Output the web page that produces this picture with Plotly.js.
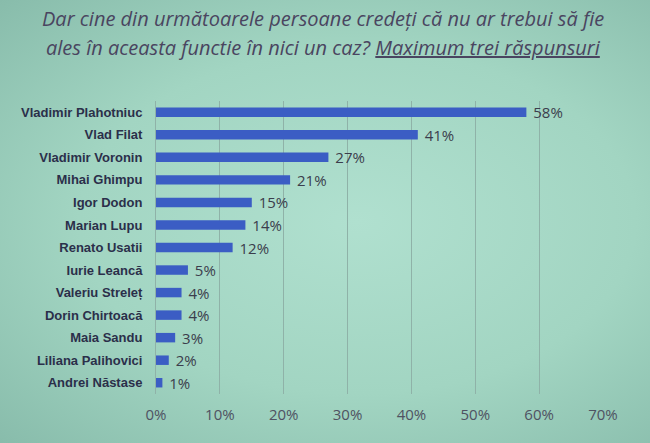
<!DOCTYPE html>
<html>
<head>
<meta charset="utf-8">
<script src="https://cdn.plot.ly/plotly-3.0.1.min.js"></script>
<style>
  html, body { margin: 0; padding: 0; }
  body {
    width: 650px; height: 443px; overflow: hidden;
    background: radial-gradient(ellipse at 55% 50%, #b0e0cf 0%, #a2d5c2 55%, #88bcab 100%);
  }
  #chart { width: 650px; height: 443px; }
</style>
</head>
<body>
<div id="chart"></div>
<script>
// Răspunsuri: cine nu ar trebui ales în nici un caz (%)
const names = [
  'Vladimir Plahotniuc', 'Vlad Filat', 'Vladimir Voronin', 'Mihai Ghimpu',
  'Igor Dodon', 'Marian Lupu', 'Renato Usatii', 'Iurie Leancă',
  'Valeriu Streleț', 'Dorin Chirtoacă', 'Maia Sandu', 'Liliana Palihovici',
  'Andrei Năstase'
];
const shares = [58, 41, 27, 21, 15, 14, 12, 5, 4, 4, 3, 2, 1];
const tickVals = [0, 10, 20, 30, 40, 50, 60, 70];
const tickText = tickVals.map(v => v + '%');
const titleLines = [
  'Dar cine din următoarele persoane credeți că nu ar trebui să fie',
  'ales în aceasta functie în nici un caz? <u>Maximum trei răspunsuri</u>'
];

const trace = {
  type: 'bar',
  orientation: 'h',
  y: names,
  x: shares,
  text: shares.map(v => '\u00a0' + v + '%'),
  textposition: 'outside',
  constraintext: 'none',
  cliponaxis: false,
  textfont: { family: 'Open Sans, sans-serif', size: 15, color: '#3b3d4c' },
  marker: { color: '#3b5dc4' },
  hoverinfo: 'none'
};

const layout = {
  width: 650,
  height: 443,
  paper_bgcolor: 'rgba(0,0,0,0)',
  plot_bgcolor: 'rgba(0,0,0,0)',
  margin: { l: 156, r: 47, t: 101, b: 49 },
  bargap: 0.58,
  showlegend: false,
  xaxis: {
    range: [0, 70],
    tickvals: tickVals,
    ticktext: tickText,
    showgrid: true,
    gridcolor: '#8fb2a8',
    gridwidth: 1,
    zeroline: false,
    showline: false,
    ticks: '',
    ticklabelstandoff: 10,
    tickfont: { family: 'Open Sans, sans-serif', size: 15, color: '#4f5262' },
    fixedrange: true
  },
  yaxis: {
    autorange: 'reversed',
    showline: true,
    linecolor: '#8fb2a8',
    linewidth: 1,
    ticks: '',
    ticklabelstandoff: 10,
    tickfont: { family: 'Liberation Sans, Arial, sans-serif', size: 13, color: '#2b2f4a', weight: 'bold' },
    fixedrange: true
  },
  annotations: titleLines.map((t, i) => ({
    text: '<i>' + t + '</i>',
    xref: 'paper', yref: 'paper',
    x: (323 - 156) / 447, xanchor: 'center',
    y: 1 + (101 - 18 - 30 * i) / 293, yanchor: 'middle',
    showarrow: false,
    font: { family: 'Open Sans, sans-serif', size: 20, color: '#4a4560' }
  }))
};

Plotly.newPlot('chart', [trace], layout, { staticPlot: true, displayModeBar: false });
</script>
</body>
</html>
